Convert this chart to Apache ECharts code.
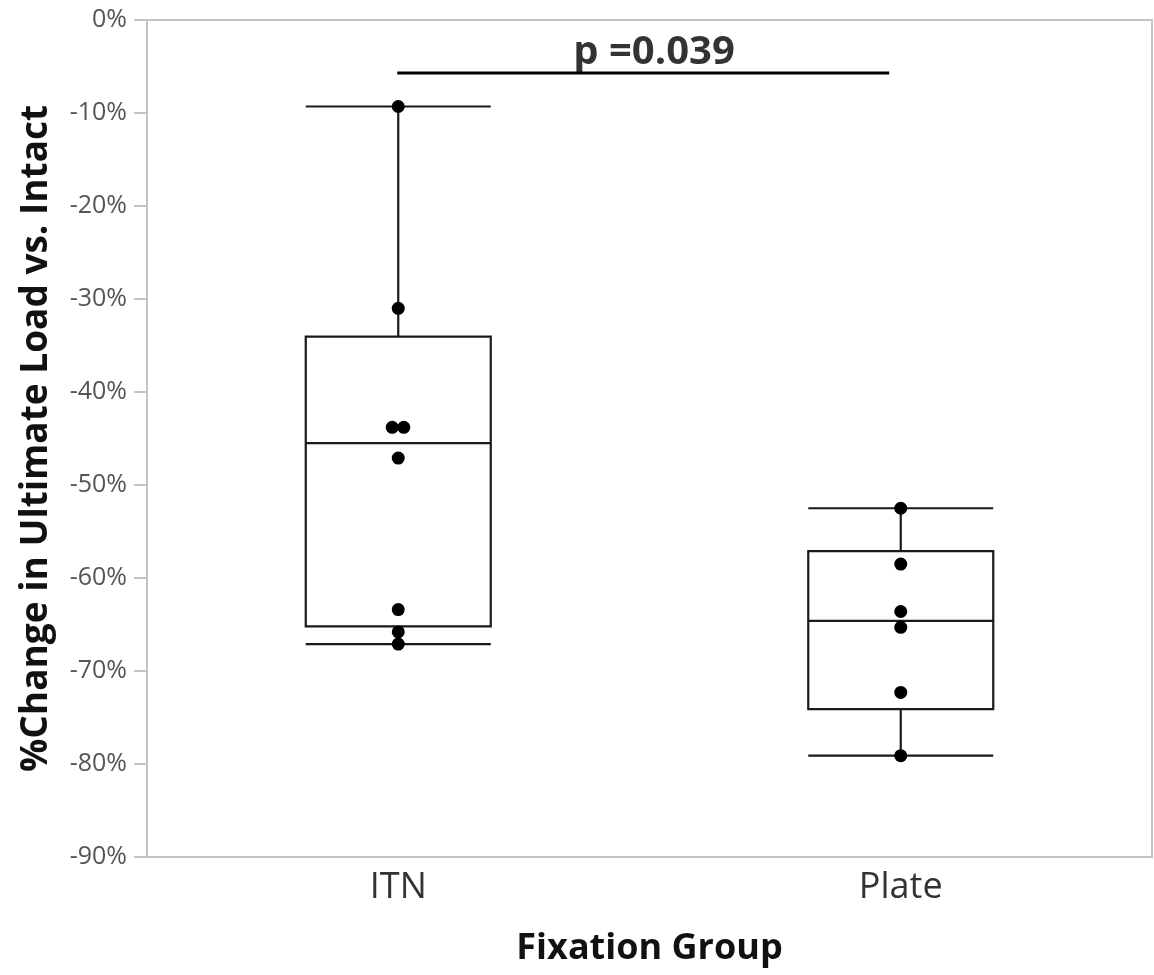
<!DOCTYPE html>
<html>
<head>
<meta charset="utf-8">
<script src="https://cdn.jsdelivr.net/npm/echarts@6/dist/echarts.min.js"></script>
<style>html,body{margin:0;padding:0;background:#fff}#c{width:1154px;height:975px}</style>
</head>
<body>
<div id="c"></div>
<script>
const categories = ['ITN', 'Plate'];
// box summaries: [min, Q1, median, Q3, max]
const itnBox = [-67.1, -65.2, -45.5, -34.05, -9.3];
const plateBox = [-79.1, -74.1, -64.6, -57.1, -52.5];
// individual specimens
const itnPoints = [-9.3, -31.0, -43.8, -43.8, -47.1, -63.4, -65.8, -67.1];
const itnJitter = [0, 0, -0.012, 0.011, 0, 0, 0, 0];
const platePoints = [-52.5, -58.5, -63.6, -65.3, -72.3, -79.1];
const plateJitter = [0, 0, 0, 0, 0, 0];
// significance bar
const sigX = [-0.002, 0.977];
const sigY = -5.7;
const sigText = 'p =0.039';
const sigTextX = 0.509;
const yTicks = {min: -90, max: 0, interval: 10};

const pts = [];
itnPoints.forEach((v, i) => pts.push([0 + itnJitter[i], v]));
platePoints.forEach((v, i) => pts.push([1 + plateJitter[i], v]));

const chart = echarts.init(document.getElementById('c'));
chart.setOption({
  animation: false,
  grid: {left: 147, right: 2, top: 20, bottom: 118, show: true, borderColor: '#c4c4c4', borderWidth: 2, backgroundColor: '#fff'},
  xAxis: [{
    type: 'category', data: categories, boundaryGap: true,
    axisLine: {onZero: false, lineStyle: {color: '#c4c4c4', width: 2}},
    axisTick: {show: false},
    axisLabel: {color: '#333', fontSize: 36, fontFamily: 'Open Sans', margin: 13},
    name: 'Fixation Group', nameLocation: 'middle', nameGap: 74,
    nameTextStyle: {color: '#111', fontSize: 36, fontWeight: 'bold', fontFamily: 'Open Sans'},
    splitLine: {show: false}
  }, {
    type: 'value', min: -0.5, max: 1.5, show: false
  }],
  yAxis: {
    type: 'value', min: yTicks.min, max: yTicks.max, interval: yTicks.interval,
    axisLine: {show: true, onZero: false, lineStyle: {color: '#c4c4c4', width: 2}},
    axisTick: {show: true, inside: false, length: 13, lineStyle: {color: '#c4c4c4', width: 2}},
    axisLabel: {color: '#555', fontSize: 25, fontFamily: 'Open Sans', margin: 20, formatter: '{value}%'},
    splitLine: {show: false},
    name: '%Change in Ultimate Load vs. Intact', nameLocation: 'middle', nameGap: 92, nameRotate: 90,
    nameTextStyle: {color: '#111', fontSize: 37, fontWeight: 'bold', fontFamily: 'Open Sans'}
  },
  series: [{
    type: 'boxplot', xAxisIndex: 0,
    data: [itnBox, plateBox],
    boxWidth: [185, 185],
    itemStyle: {color: '#fff', borderColor: '#1a1a1a', borderWidth: 2.2},
    emphasis: {disabled: true}
  }, {
    type: 'scatter', xAxisIndex: 1, data: pts, symbolSize: 13,
    itemStyle: {color: '#000', opacity: 1}, z: 5
  }, {
    type: 'line', xAxisIndex: 1, data: sigX.map(x => [x, sigY]), symbol: 'none',
    lineStyle: {color: '#000', width: 3}, z: 6
  }, {
    type: 'scatter', xAxisIndex: 1, data: [[sigTextX, sigY]], symbolSize: 0,
    label: {show: true, position: 'top', distance: 0, formatter: sigText, color: '#000', fontSize: 40, fontWeight: 'bold', fontFamily: 'Open Sans'},
    z: 7
  }]
});
</script>
</body>
</html>
